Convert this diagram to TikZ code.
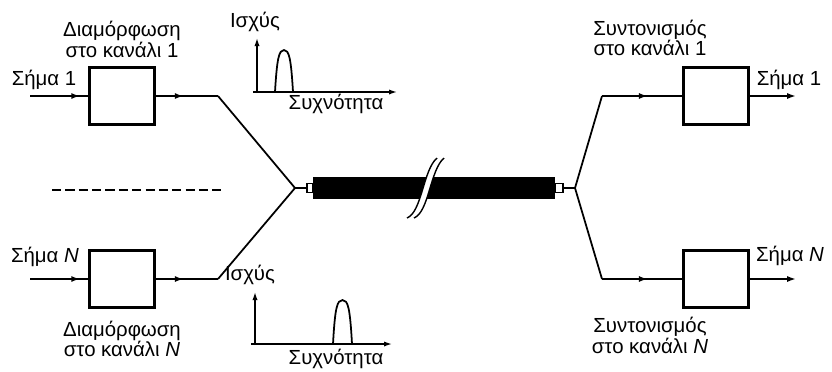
\documentclass[tikz,border=0pt]{standalone}
\usepackage{fontspec}
\setmainfont{Liberation Sans}
\usetikzlibrary{arrows.meta,positioning,decorations.markings}

\begin{document}
\begin{tikzpicture}[
  x=0.025cm, y=-0.025cm,
  font=\fontsize{14.5}{14.5}\selectfont,
  blk/.style={draw, line width=1.8pt, minimum width=1.62cm, minimum height=1.42cm, inner sep=0pt},
  lbl/.style={align=center, inner sep=0pt},
  wire/.style={line width=1.25pt},
  arr/.style={wire, -{Latex[length=2.2mm,width=1.5mm]}},
  midarr/.style={wire, postaction={decorate}, decoration={markings, mark=at position #1 with {\arrow{Latex[length=2.2mm,width=1.5mm]}}}},
  axis/.style={line width=1pt, -{Latex[length=2mm,width=1.3mm]}},
  plug/.style={draw, fill=white, line width=0.9pt, minimum height=0.24cm, inner sep=0pt},
]
\useasboundingbox (0,0) rectangle (832,371);
% modulators and tuners
\node[blk] (mod1) at (122,96) {};
\node[blk] (modN) at (122,279) {};
\node[blk] (tun1) at (716,96) {};
\node[blk] (tunN) at (716,279) {};
\node[lbl, above=0.22cm of mod1] (modlbl1) {Διαμόρφωση\\στο κανάλι 1};
\node[lbl, below=0.3cm of modN] (modlblN) {Διαμόρφωση\\στο κανάλι \textit{N}};
\node[lbl, anchor=south] (tunlbl1) at (650,56) {Συντονισμός\\στο κανάλι 1};
\node[lbl, anchor=north] (tunlblN) at (650,317) {Συντονισμός\\στο κανάλι \textit{N}};
\node[lbl] (sig1in) at (44,80) {Σήμα 1};
\node[lbl] (sigNin) at (45,257) {Σήμα \textit{N}};
\node[lbl] (sig1out) at (789,80) {Σήμα 1};
\node[lbl] (sigNout) at (790,256) {Σήμα \textit{N}};
% fibre
\node[fill=black, minimum width=6.05cm, minimum height=0.55cm, inner sep=0pt] (cable) at (434,188) {};
\node[plug, minimum width=0.15cm] (cl) at (310,188) {};
\node[plug, minimum width=0.2cm] (cr) at (559,188) {};
\fill[white] (407,218) .. controls (422,212) and (423,170) .. (437,158)
  -- (444,158) .. controls (430,170) and (429,212) .. (414,218) -- cycle;
\draw[line width=1pt] (407,218) .. controls (422,212) and (423,170) .. (437,158);
\draw[line width=1pt] (414,218) .. controls (429,212) and (430,170) .. (444,158);
\coordinate (jl) at (295,188);
\coordinate (jr) at (575,188);
\draw[wire] (jl) -- (cl.west);
\draw[wire] (cr.east) -- (jr);
% branches
\coordinate (in1) at (30,96);
\coordinate (inN) at (30,279);
\coordinate (bl1) at (218,96);
\coordinate (blN) at (218,279);
\coordinate (br1) at (602,96);
\coordinate (brN) at (602,279);
\coordinate (out1) at (796,96);
\coordinate (outN) at (796,279);
\draw[midarr=0.86] (in1) -- (mod1.west);
\draw[midarr=0.86] (inN) -- (modN.west);
\draw[midarr=0.45] (mod1.east) -- (bl1);
\draw[midarr=0.45] (modN.east) -- (blN);
\draw[wire] (bl1) -- (jl) -- (blN);
\draw[wire] (br1) -- (jr) -- (brN);
\draw[midarr=0.57] (br1) -- (tun1.west);
\draw[midarr=0.57] (brN) -- (tunN.west);
\draw[arr] (tun1.east) -- (out1);
\draw[arr] (tunN.east) -- (outN);
\draw[wire, dash pattern=on 6.5pt off 3pt] (52,190) -- (222,190);
% spectra
\draw[axis] (253,92) -- (397,92);
\draw[axis] (257,93) -- (257,38);
\draw[wire] (275,92) .. controls (277,58) and (279,50) .. (284,50)
  .. controls (289,50) and (291,58) .. (293,92);
\node[lbl] (pow1) at (255,22) {Ισχύς};
\node[lbl] (freq1) at (336,104) {Συχνότητα};
\draw[axis] (251,344) -- (392,344);
\draw[axis] (255,345) -- (255,292);
\draw[wire] (333,344) .. controls (335,308) and (337,300) .. (342.5,300)
  .. controls (348,300) and (350,308) .. (352,344);
\node[lbl] (powN) at (250,275) {Ισχύς};
\node[lbl] (freqN) at (336,359) {Συχνότητα};
\end{tikzpicture}
\end{document}
